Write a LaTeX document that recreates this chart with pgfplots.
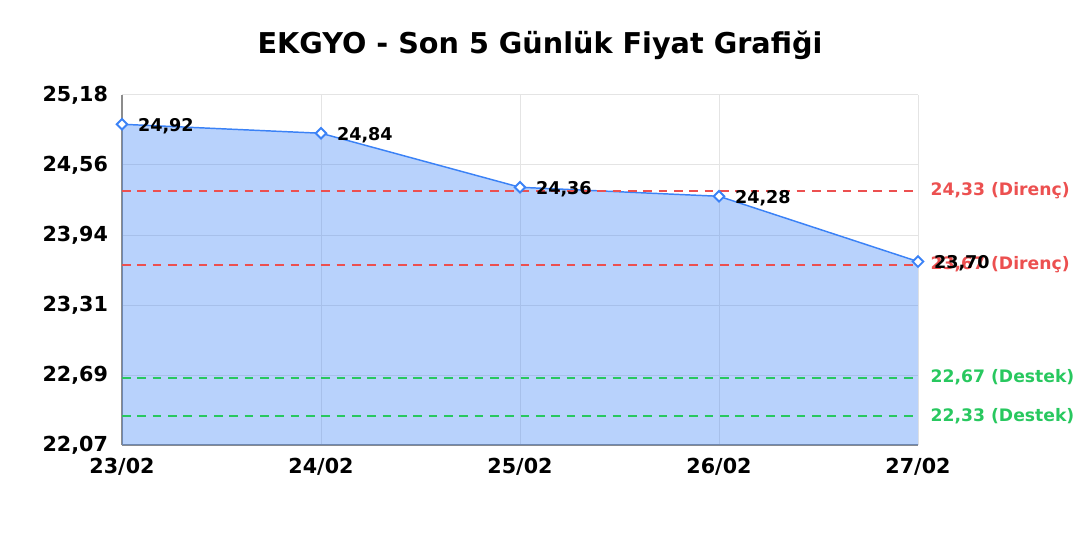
\documentclass[border=0pt]{standalone}
\usepackage{pgfplots}
\pgfplotsset{compat=1.18}
\usepackage{fontspec}
\setmainfont{DejaVu Sans}
\definecolor{lineblue}{RGB}{59,130,246}
\definecolor{fillblue}{RGB}{59,130,246}
\definecolor{resred}{RGB}{236,80,80}
\definecolor{supgreen}{RGB}{40,200,95}
\definecolor{gridgray}{RGB}{228,228,228}
\definecolor{axgray}{RGB}{140,140,140}
\begin{document}
\begin{tikzpicture}[x=0.75pt,y=0.75pt]
\useasboundingbox (0,0) rectangle (1080,540);
\node[font=\bfseries\fontsize{21.5}{25}\selectfont] at (540,495) {EKGYO - Son 5 Günlük Fiyat Grafiği};
\begin{axis}[
    at={(91.5pt,71.25pt)}, anchor=south west,
    scale only axis,
    width=597pt, height=262.5pt,
    xmin=0, xmax=4,
    ymin=22.07, ymax=25.18,
    xtick={0,1,2,3,4},
    xticklabels={23/02,24/02,25/02,26/02,27/02},
    ytick={22.07,22.692,23.314,23.936,24.558,25.18},
    yticklabel style={xshift=-7pt, /pgf/number format/.cd, fixed, fixed zerofill, precision=2, use comma},
    /pgf/number format/assume math mode=true,
    ticklabel style={font=\bfseries\fontsize{15.5}{18}\selectfont},
    xticklabel style={yshift=-6.5pt},
    major tick length=0pt,
    grid=major,
    major grid style={gridgray, line width=0.75pt},
    axis lines=left,
    axis line style={-, axgray, line width=1pt},
    clip=false,
]
\addplot[draw=none, fill=fillblue, fill opacity=0.36] coordinates {
    (0,24.92) (1,24.84) (2,24.36) (3,24.28) (4,23.70)
} -- (axis cs:4,22.07) -- (axis cs:0,22.07) -- cycle;
\addplot[lineblue, line width=1.1pt, mark=square*, mark size=2.8pt,
    mark options={fill=white, draw=lineblue, line width=1.4pt, rotate=45},
    nodes near coords,
    nodes near coords style={anchor=west, xshift=8pt, yshift=-1.5pt, black,
        font=\bfseries\fontsize{13.2}{15}\selectfont,
        /pgf/number format/.cd, fixed, fixed zerofill, precision=2, use comma},
    ] coordinates {
    (0,24.92) (1,24.84) (2,24.36) (3,24.28) (4,23.70)
};
\addplot[resred, dash pattern=on 6.5pt off 5pt, line width=1.4pt] coordinates {(0,24.33) (4,24.33)};
\addplot[resred, dash pattern=on 6.5pt off 5pt, line width=1.4pt] coordinates {(0,23.67) (4,23.67)};
\addplot[supgreen, dash pattern=on 6.5pt off 5pt, line width=1.4pt] coordinates {(0,22.33) (4,22.33)};
\addplot[supgreen, dash pattern=on 6.5pt off 5pt, line width=1.7pt] coordinates {(0,22.665) (4,22.665)};
\node[anchor=west, resred, font=\bfseries\fontsize{12.9}{15}\selectfont, xshift=6pt] at (axis cs:4,24.33) {24,33 (Direnç)};
\node[anchor=west, resred, font=\bfseries\fontsize{12.9}{15}\selectfont, xshift=6pt] at (axis cs:4,23.67) {23,67 (Direnç)};
\node[anchor=west, supgreen, font=\bfseries\fontsize{12.9}{15}\selectfont, xshift=6pt] at (axis cs:4,22.67) {22,67 (Destek)};
\node[anchor=west, supgreen, font=\bfseries\fontsize{12.9}{15}\selectfont, xshift=6pt] at (axis cs:4,22.33) {22,33 (Destek)};
\end{axis}
\end{tikzpicture}
\end{document}
